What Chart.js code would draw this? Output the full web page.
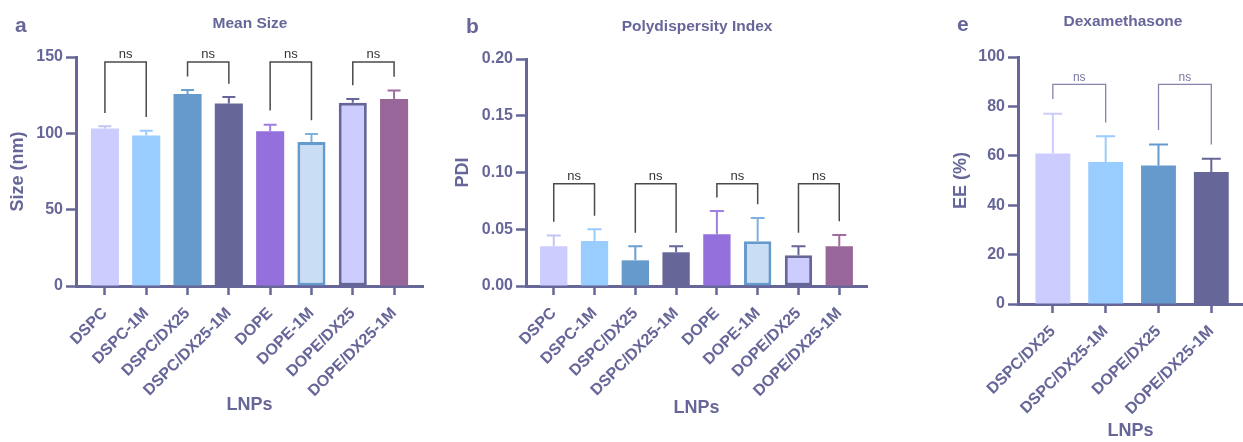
<!DOCTYPE html>
<html><head><meta charset="utf-8">
<script src="https://cdn.jsdelivr.net/npm/chart.js@4.4.1/dist/chart.umd.min.js"></script>
<style>
html,body{margin:0;padding:0;background:#fff;width:1243px;height:442px;overflow:hidden;}
canvas{position:absolute;top:0;}
</style></head><body>
<canvas id="ca" width="430" height="442" style="left:0px"></canvas>
<canvas id="cb" width="440" height="442" style="left:430px"></canvas>
<canvas id="ce" width="313" height="442" style="left:930px"></canvas>
<script>
// ---- data ----
const lnpLabels = ['DSPC','DSPC-1M','DSPC/DX25','DSPC/DX25-1M','DOPE','DOPE-1M','DOPE/DX25','DOPE/DX25-1M'];
const sizeMean = [103.1, 98.6, 125.8, 119.5, 101.4, 94.4, 120.1, 122.5];
const sizeErr  = [1.5, 3.1, 2.6, 4.3, 4.3, 5.2, 2.4, 5.5];
const pdiMean  = [0.035, 0.0397, 0.0226, 0.0297, 0.0456, 0.0394, 0.027, 0.035];
const pdiErr   = [0.0094, 0.0103, 0.0124, 0.0053, 0.0204, 0.0206, 0.008, 0.010];
const eeLabels = ['DSPC/DX25','DSPC/DX25-1M','DOPE/DX25','DOPE/DX25-1M'];
const eeMean   = [60.9, 57.5, 56.1, 53.4];
const eeErr    = [16.1, 10.4, 8.5, 5.4];
// significance brackets: [left index, right index, top value, left leg end, right leg end]
const sizeSig = [[0,1,146.7,113.4,110.7],[2,3,146.7,137.3,132.5],[4,5,146.7,115,108.6],[6,7,146.7,131.5,137]];
const pdiSig  = [[0,1,0.09,0.0565,0.062],[2,3,0.09,0.047,0.047],[4,5,0.09,0.078,0.072],[6,7,0.09,0.047,0.057]];
const eeSig   = [[0,1,88.9,83,73.5],[2,3,88.9,70.4,64.6]];
const sigText = 'ns';

// ---- style ----
const FONT = "'Liberation Sans', Arial, Helvetica, sans-serif";
const INK = '#666699';
const fill8 = ['#ccccff','#99ccff','#6699cc','#666699','#9370db','#c9ddf5','#ccccff','#996699'];
const edge8 = ['#ccccff','#99ccff','#6699cc','#666699','#9370db','#6699cc','#666699','#996699'];
const errC8 = ['#c4c4f5','#99ccff','#6a9fd2','#666699','#a07ee2','#7fb0e0','#666699','#a06ca0'];
const bw8   = [0,0,0,0,0,3,3,0];
const fill4 = ['#ccccff','#99ccff','#6699cc','#666699'];
const errC4 = ['#ccccff','#99ccff','#6699cc','#666699'];

function panel(id, o) {
  const n = o.labels.length;
  const annot = {
    id: 'annot' + id,
    afterDatasetsDraw(chart) {
      const {ctx, scales: {x, y}} = chart;
      ctx.save();
      ctx.lineWidth = 2;
      o.mean.forEach((m, i) => {
        const px = x.getPixelForValue(i);
        const y0 = y.getPixelForValue(m), y1 = y.getPixelForValue(m + o.err[i]);
        ctx.strokeStyle = o.errColor[i];
        ctx.beginPath();
        ctx.moveTo(px, y0); ctx.lineTo(px, y1);
        ctx.moveTo(px - o.cap / 2, y1); ctx.lineTo(px + o.cap / 2, y1);
        ctx.stroke();
      });
      ctx.lineWidth = o.brW;
      ctx.strokeStyle = o.brColor;
      ctx.fillStyle = o.nsColor;
      ctx.font = o.nsFont;
      ctx.textAlign = 'center';
      ctx.textBaseline = 'bottom';
      o.sig.forEach(([a, b, top, la, lb]) => {
        const xa = x.getPixelForValue(a), xb = x.getPixelForValue(b);
        const yt = y.getPixelForValue(top);
        ctx.beginPath();
        ctx.moveTo(xa, y.getPixelForValue(la));
        ctx.lineTo(xa, yt); ctx.lineTo(xb, yt);
        ctx.lineTo(xb, y.getPixelForValue(lb));
        ctx.stroke();
        ctx.fillText(sigText, (xa + xb) / 2, yt - 1);
      });
      ctx.restore();
    },
    afterDraw(chart) {
      const ctx = chart.ctx;
      ctx.save();
      ctx.fillStyle = INK;
      ctx.textBaseline = 'middle';
      ctx.textAlign = 'left';
      ctx.font = 'bold 21px ' + FONT;
      ctx.fillText(o.letter, o.letterX, o.letterY);
      ctx.textAlign = 'center';
      ctx.font = 'bold 15.5px ' + FONT;
      ctx.fillText(o.title, o.titleX, o.titleY);
      ctx.restore();
    }
  };
  return new Chart(document.getElementById(id), {
    type: 'bar',
    data: {
      datasets: [{
        data: o.mean.map((v, i) => ({x: i, y: v})),
        backgroundColor: o.fill, borderColor: o.edge, borderWidth: o.bw,
        borderSkipped: false, barPercentage: o.barPct, categoryPercentage: 1
      }]
    },
    options: {
      responsive: false, animation: false, devicePixelRatio: 1,
      layout: {padding: {top: o.top, right: o.right, left: 0, bottom: 0}},
      plugins: {legend: {display: false}, tooltip: {enabled: false}, title: {display: false}},
      scales: {
        x: {
          type: 'linear', min: o.xmin, max: o.xmax, offset: false,
          afterBuildTicks: s => { s.ticks = s.ticks.filter(t => Number.isInteger(t.value) && t.value >= 0 && t.value < n); },
          afterFit: s => { s.height = o.xh; },
          ticks: {stepSize: 1, autoSkip: false, minRotation: 45, maxRotation: 45, color: INK,
                  font: {family: FONT, size: 16, weight: 'bold'}, padding: 9,
                  callback: v => o.labels[v]},
          grid: {offset: false, drawOnChartArea: false, drawTicks: true, tickLength: 9, tickWidth: 2.5, tickColor: INK},
          border: {color: INK, width: 3},
          title: {display: true, text: 'LNPs', color: INK, font: {family: FONT, size: 18, weight: 'bold'},
                  padding: {top: 0, bottom: o.xtPad}}
        },
        y: {
          min: 0, max: o.ymax,
          afterFit: s => { s.width = o.yw; },
          ticks: {stepSize: o.step, color: INK, font: {family: FONT, size: 16, weight: 'bold'}, padding: 3,
                  callback: o.fmt},
          grid: {drawOnChartArea: false, drawTicks: true, tickLength: 10, tickWidth: 2.5, tickColor: INK},
          border: {color: INK, width: 3},
          title: {display: true, text: o.ytitle, color: INK, font: {family: FONT, size: 18, weight: 'bold'},
                  padding: {top: o.ytPad, bottom: 0}}
        }
      }
    },
    plugins: [annot]
  });
}

panel('ca', {
  labels: lnpLabels, mean: sizeMean, err: sizeErr, sig: sizeSig,
  fill: fill8, edge: edge8, bw: bw8, errColor: errC8, barPct: 0.68, cap: 13,
  brW: 1.5, brColor: '#4a4a4a', nsColor: '#333333', nsFont: '13px ' + FONT,
  letter: 'a', letterX: 15, letterY: 26, title: 'Mean Size', titleX: 250, titleY: 24,
  top: 57, right: 7, xmin: -0.7, xmax: 7.7, xh: 156, xtPad: 26,
  ymax: 150, step: 50, fmt: v => v, yw: 76, ytitle: 'Size (nm)', ytPad: 7
});
panel('cb', {
  labels: lnpLabels, mean: pdiMean, err: pdiErr, sig: pdiSig,
  fill: fill8, edge: edge8, bw: bw8, errColor: errC8, barPct: 0.67, cap: 14,
  brW: 1.5, brColor: '#4a4a4a', nsColor: '#333333', nsFont: '13px ' + FONT,
  letter: 'b', letterX: 36, letterY: 27, title: 'Polydispersity Index', titleX: 267, titleY: 27,
  top: 59, right: 3, xmin: -0.68, xmax: 7.68, xh: 156, xtPad: 23,
  ymax: 0.2, step: 0.05, fmt: v => v.toFixed(2), yw: 96, ytitle: 'PDI', ytPad: 22
});
panel('ce', {
  labels: eeLabels, mean: eeMean, err: eeErr, sig: eeSig,
  fill: fill4, edge: fill4, bw: 0, errColor: errC4, barPct: 0.66, cap: 19,
  brW: 1.3, brColor: '#8484ac', nsColor: '#77779f', nsFont: '12px ' + FONT,
  letter: 'e', letterX: 27, letterY: 25, title: 'Dexamethasone', titleX: 193, titleY: 22,
  top: 57, right: 0, xmin: -0.66, xmax: 3.6, xh: 138, xtPad: 0,
  ymax: 100, step: 20, fmt: v => v, yw: 88, ytitle: 'EE (%)', ytPad: 20
});
</script>
</body></html>
